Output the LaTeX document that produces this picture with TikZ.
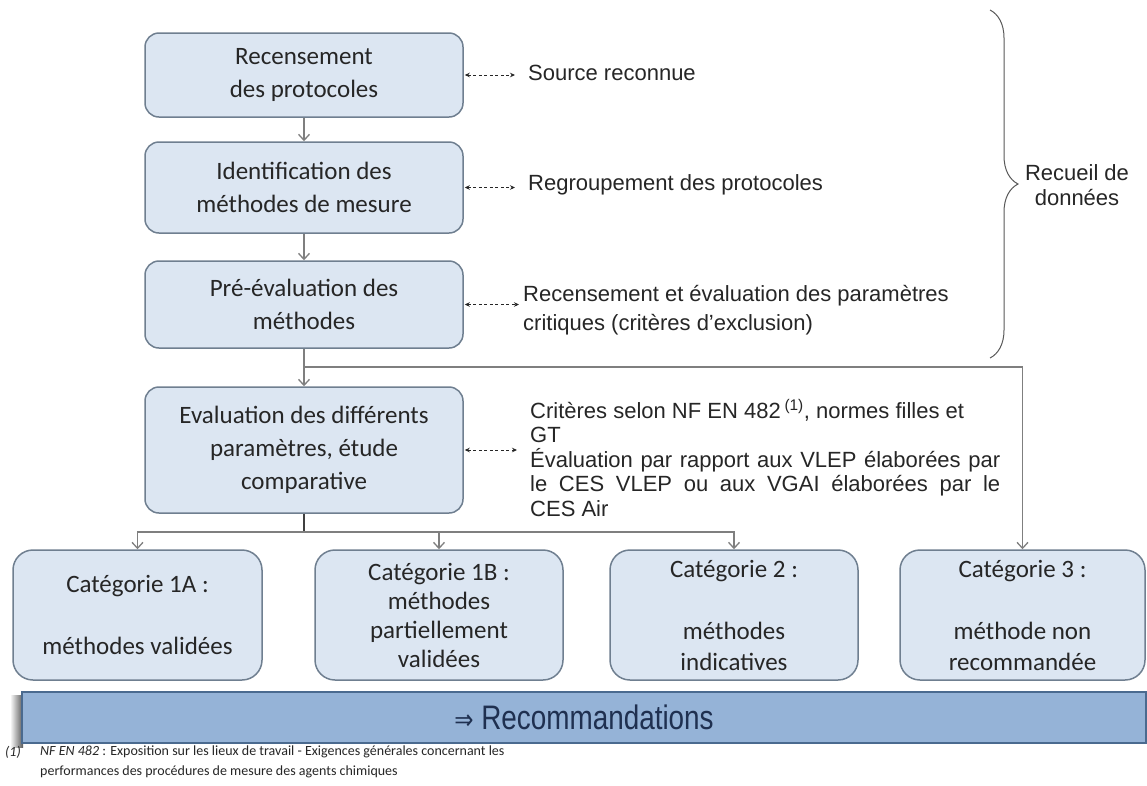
\documentclass[tikz,border=0pt]{standalone}
\usepackage{fontspec}
\setmainfont{Liberation Sans}
\newfontfamily\calfont{Carlito}
\newfontfamily\symfont{DejaVu Sans}
\usetikzlibrary{arrows.meta,decorations.pathreplacing,calc}
\definecolor{boxfill}{HTML}{DCE6F2}
\definecolor{boxline}{HTML}{6F7F90}
\definecolor{linegray}{HTML}{7F7F7F}
\definecolor{txt}{HTML}{262626}
\definecolor{banfill}{HTML}{95B3D7}
\definecolor{banline}{HTML}{4A6A8F}
\definecolor{bantxt}{HTML}{1F3050}
\begin{document}
\begin{tikzpicture}[x=1pt,y=-1pt,
 flowbox/.style={draw=boxline, line width=1.5pt, fill=boxfill, rounded corners=14pt,
   minimum width=318pt, align=center, font=\calfont\fontsize{25}{33}\selectfont, text=txt, inner sep=0pt},
 catbox/.style={draw=boxline, line width=1.5pt, fill=boxfill, rounded corners=20pt,
   minimum height=130pt, align=center, font=\calfont\fontsize{25}{31}\selectfont, text=txt, inner sep=0pt},
 arr/.style={draw=linegray, line width=1.3pt, -{Straight Barb[length=6pt,width=11pt]}},
 darkline/.style={draw=black!75, line width=2.5pt},
 dotarr/.style={draw=txt, line width=1pt, dash pattern=on 3pt off 2.5pt,
   {Stealth[length=5pt,width=4.5pt]}-{Stealth[length=5pt,width=4.5pt]}},
 side/.style={font=\fontsize{22}{29}\selectfont, text=txt, inner sep=0pt, anchor=west, align=left},
 banner/.style={draw=banline, line width=2pt, fill=banfill, minimum width=1124pt, minimum height=51pt, inner sep=0pt,
   font=\fontsize{34}{34}\selectfont, text=bantxt},
 foot/.style={font=\calfont\fontsize{14}{20}\selectfont, text=txt, inner sep=0pt, anchor=west, align=left},
]
\useasboundingbox (0,0) rectangle (1147,785);
\fill[white] (0,0) rectangle (1147,785);

% main flow boxes
\node[flowbox, minimum height=84pt]  (b1) at (304,75)    {Recensement\\des protocoles};
\node[flowbox, minimum height=91pt]  (b2) at (304,187.5) {Identification des\\méthodes de mesure};
\node[flowbox, minimum height=87pt]  (b3) at (304,304.5) {Pré-évaluation des\\méthodes};
\node[flowbox, minimum height=126pt] (b4) at (304,450)   {Evaluation des différents\\paramètres, étude\\comparative};

% categories
\node[catbox, minimum width=249pt] (c1) at (137.5,615) {Catégorie 1A :\\\mbox{}\\méthodes validées};
\node[catbox, minimum width=248pt, font=\calfont\fontsize{25}{29}\selectfont] (c2) at (439,615) {Catégorie 1B :\\méthodes\\partiellement\\validées};
\node[catbox, minimum width=248pt] (c3) at (734,615) {Catégorie 2 :\\\mbox{}\\méthodes\\indicatives};
\node[catbox, minimum width=245pt] (c4) at (1022.5,615) {Catégorie 3 :\\\mbox{}\\méthode non\\recommandée};

% side texts
\node[side] (s1) at (528,73) {Source reconnue};
\node[side] (s2) at (528,185) {Regroupement des protocoles};
\node[side] (s3) at (523,310) {Recensement et évaluation des paramètres\\critiques (critères d'exclusion)};
\node[side, font=\fontsize{22}{24.5}\selectfont] (s4) at (530,458) {%
Critères selon NF EN 482\,\textsuperscript{(1)}, normes filles et\\
GT\\
\makebox[470pt][s]{Évaluation par rapport aux VLEP élaborées par}\\
\makebox[470pt][s]{le CES VLEP ou aux VGAI élaborées par le}\\
CES Air};

% dotted double arrows
\draw[dotarr, shorten >=13pt, shorten <=1pt] (b1.east) -- (b1.east -| s1.west);
\draw[dotarr, shorten >=13pt, shorten <=1pt] (b2.east) -- (b2.east -| s2.west);
\draw[dotarr, shorten >=4pt, shorten <=1pt] (b3.east) -- (b3.east -| s3.west);
\draw[dotarr, shorten >=13pt, shorten <=1pt] (b4.east) -- (b4.east -| s4.west);

% flow connectors
\coordinate (sp1) at (304,367);
\coordinate (sp2) at (304,532);
\draw[arr] (b1.south) -- (b2.north);
\draw[arr] (b2.south) -- (b3.north);
\draw[arr] (b3.south) -- (b4.north);
\draw[arr] (sp1) -| (c4.north);
\draw[darkline] (b4.south) -- (sp2);
\draw[arr] (sp2) -| (c1.north);
\draw[arr] (sp2) -| (c2.north);
\draw[arr] (sp2) -| (c3.north);

% brace
\draw[decorate, decoration={brace, amplitude=28pt, aspect=0.5}, draw=black!65, line width=1pt] (990,10) -- (990,358);
\node[font=\fontsize{22}{25}\selectfont, text=txt, align=center, inner sep=0pt] (rd) at (1077,185) {Recueil de\\données};

% banner with left shadow
\shade[left color=white, right color=black!65] (10,695) rectangle (23,747);
\node[banner] (rec) at (584,717.5) {\scalebox{0.82}[1]{{\symfont\fontsize{28}{28}\selectfont ⇒} Recommandations}};

% footnote
\node[foot] (f1) at (5,752) {\textit{(1)}};
\node[foot] (f2) at (40,752) {\textit{NF EN 482} : Exposition sur les lieux de travail - Exigences générales concernant les};
\node[foot] (f3) at (40,772) {performances des procédures de mesure des agents chimiques};
\end{tikzpicture}
\end{document}
